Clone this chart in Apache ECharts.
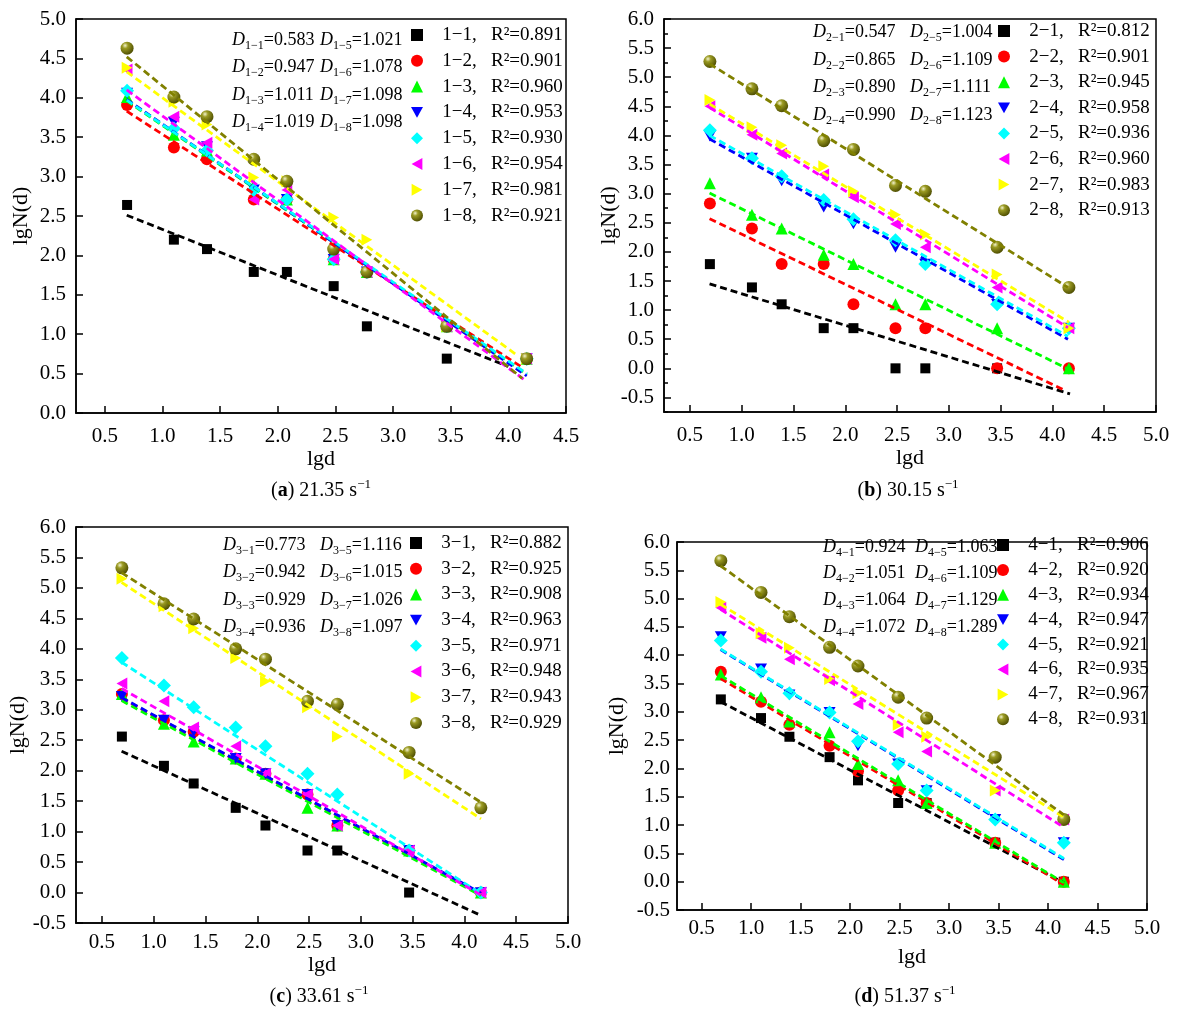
<!DOCTYPE html>
<html>
<head>
<meta charset="utf-8">
<title>lgN(d) - lgd</title>
<script src="https://cdn.jsdelivr.net/npm/echarts@6/dist/echarts.min.js"></script>
<style>
  html, body { margin: 0; padding: 0; background: #fff; }
  #chart { width: 1178px; height: 1027px; }
</style>
</head>
<body>
<div id="chart"></div>
<script>
// x positions shared by every panel
const lgd = [0.693, 1.099, 1.386, 1.792, 2.079, 2.485, 2.773, 3.466, 4.159];

// tick labels
const xTicksA = [0.5, 1.0, 1.5, 2.0, 2.5, 3.0, 3.5, 4.0, 4.5];
const xTicksB = [0.5, 1.0, 1.5, 2.0, 2.5, 3.0, 3.5, 4.0, 4.5, 5.0];
const yTicksB = [-0.5, 0.0, 0.5, 1.0, 1.5, 2.0, 2.5, 3.0, 3.5, 4.0, 4.5, 5.0, 5.5, 6.0];

// (a) 21.35 s-1
const namesA = ['1−1', '1−2', '1−3', '1−4', '1−5', '1−6', '1−7', '1−8'];
const r2A = ['0.891', '0.901', '0.960', '0.953', '0.930', '0.954', '0.981', '0.921'];
const dA = ['0.583', '0.947', '1.011', '1.019', '1.021', '1.078', '1.098', '1.098'];
const valuesA = [
  [2.64, 2.20, 2.08, 1.79, 1.79, 1.61, 1.10, 0.69, null],
  [3.91, 3.37, 3.22, 2.71, 2.71, 1.95, 1.79, 1.10, 0.69],
  [4.01, 3.53, 3.33, 2.89, 2.71, 1.95, 1.79, 1.10, 0.69],
  [4.06, 3.69, 3.38, 2.83, 2.71, 1.95, 1.79, 1.10, 0.69],
  [4.09, 3.61, 3.33, 2.83, 2.71, 1.95, 1.79, 1.10, 0.69],
  [4.36, 3.76, 3.43, 2.71, 2.83, 1.95, 1.79, 1.10, 0.69],
  [4.38, 3.95, 3.66, 2.99, 2.94, 2.48, 2.20, 1.10, 0.69],
  [4.63, 4.01, 3.76, 3.22, 2.94, 2.08, 1.79, 1.10, 0.69]
];
// fitted lines: [x start, y start, x end, y end]
const fitsA = [
  [0.69, 2.51, 4.00, 0.59],
  [0.69, 3.83, 4.13, 0.57],
  [0.69, 3.96, 4.16, 0.49],
  [0.69, 3.98, 4.16, 0.47],
  [0.69, 3.97, 4.16, 0.50],
  [0.69, 4.10, 4.16, 0.40],
  [0.69, 4.33, 4.06, 0.75],
  [0.69, 4.52, 4.12, 0.44]
];

// (b) 30.15 s-1
const namesB = ['2−1', '2−2', '2−3', '2−4', '2−5', '2−6', '2−7', '2−8'];
const r2B = ['0.812', '0.901', '0.945', '0.958', '0.936', '0.960', '0.983', '0.913'];
const dB = ['0.547', '0.865', '0.890', '0.990', '1.004', '1.109', '1.111', '1.123'];
const valuesB = [
  [1.79, 1.39, 1.10, 0.69, 0.69, 0.00, 0.00, 0.00, null],
  [2.83, 2.40, 1.79, 1.79, 1.10, 0.69, 0.69, 0.00, 0.00],
  [3.18, 2.64, 2.40, 1.95, 1.79, 1.10, 1.10, 0.69, 0.00],
  [3.99, 3.61, 3.22, 2.77, 2.48, 2.08, 1.79, 1.10, 0.69],
  [4.09, 3.61, 3.30, 2.89, 2.56, 2.20, 1.79, 1.10, 0.69],
  [4.50, 4.01, 3.69, 3.33, 2.94, 2.48, 2.08, 1.39, 0.69],
  [4.61, 4.14, 3.83, 3.47, 3.04, 2.64, 2.30, 1.61, 0.69],
  [5.27, 4.80, 4.51, 3.91, 3.76, 3.14, 3.04, 2.08, 1.39]
];
const fitsB = [
  [0.69, 1.45, 4.17, -0.44],
  [0.69, 2.57, 4.12, -0.38],
  [0.69, 3.01, 4.15, -0.01],
  [0.69, 3.94, 4.15, 0.50],
  [0.69, 4.00, 4.15, 0.55],
  [0.69, 4.48, 4.15, 0.70],
  [0.69, 4.54, 4.16, 0.79],
  [0.69, 5.23, 4.15, 1.39]
];

// (c) 33.61 s-1
const namesC = ['3−1', '3−2', '3−3', '3−4', '3−5', '3−6', '3−7', '3−8'];
const r2C = ['0.882', '0.925', '0.908', '0.963', '0.971', '0.948', '0.943', '0.929'];
const dC = ['0.773', '0.942', '0.929', '0.936', '1.116', '1.015', '1.026', '1.097'];
const valuesC = [
  [2.56, 2.08, 1.79, 1.39, 1.10, 0.69, 0.69, 0.00, null],
  [3.26, 2.83, 2.64, 2.20, 1.95, 1.61, 1.10, 0.69, 0.00],
  [3.26, 2.77, 2.48, 2.20, 1.95, 1.39, 1.10, 0.69, 0.00],
  [3.22, 2.83, 2.64, 2.20, 1.95, 1.61, 1.10, 0.69, 0.00],
  [3.85, 3.40, 3.04, 2.71, 2.40, 1.95, 1.61, 0.69, 0.00],
  [3.43, 3.14, 2.71, 2.40, 1.95, 1.61, 1.10, 0.69, 0.00],
  [5.15, 4.70, 4.34, 3.85, 3.47, 3.04, 2.56, 1.95, null],
  [5.33, 4.74, 4.49, 4.00, 3.83, 3.14, 3.09, 2.30, 1.39]
];
const fitsC = [
  [0.69, 2.32, 4.14, -0.36],
  [0.69, 3.19, 4.16, -0.02],
  [0.69, 3.15, 4.16, -0.05],
  [0.69, 3.20, 4.16, -0.01],
  [0.69, 3.78, 4.16, -0.02],
  [0.69, 3.35, 4.16, -0.04],
  [0.69, 5.09, 4.16, 1.21],
  [0.69, 5.25, 4.16, 1.48]
];

// (d) 51.37 s-1
const namesD = ['4−1', '4−2', '4−3', '4−4', '4−5', '4−6', '4−7', '4−8'];
const r2D = ['0.906', '0.920', '0.934', '0.947', '0.921', '0.935', '0.967', '0.931'];
const dD = ['0.924', '1.051', '1.064', '1.072', '1.063', '1.109', '1.129', '1.289'];
const valuesD = [
  [3.22, 2.89, 2.56, 2.20, 1.79, 1.39, 1.39, 0.69, 0.00],
  [3.71, 3.18, 2.77, 2.40, 1.95, 1.61, 1.39, 0.69, 0.00],
  [3.66, 3.26, 2.83, 2.64, 2.08, 1.79, 1.39, 0.69, 0.00],
  [4.33, 3.76, 3.30, 2.99, 2.40, 2.08, 1.61, 1.10, 0.69],
  [4.26, 3.71, 3.33, 2.99, 2.48, 2.08, 1.61, 1.10, 0.69],
  [4.84, 4.31, 3.93, 3.56, 3.14, 2.64, 2.30, 1.61, 1.10],
  [4.94, 4.39, 4.13, 3.58, 3.33, 2.77, 2.56, 1.61, 1.10],
  [5.67, 5.11, 4.68, 4.14, 3.81, 3.26, 2.89, 2.20, 1.10]
];
const fitsD = [
  [0.69, 3.18, 4.16, -0.02],
  [0.69, 3.59, 4.16, -0.05],
  [0.69, 3.64, 4.16, -0.02],
  [0.69, 4.10, 4.16, 0.39],
  [0.69, 4.11, 4.16, 0.41],
  [0.69, 4.81, 4.16, 0.96],
  [0.69, 4.90, 4.16, 1.14],
  [0.69, 5.58, 4.16, 1.18]
];

const FONT = 'Liberation Serif';

// triangle outlines pointing down / left / right
const triDown = 'path://M0,0L2,0L1,1.8Z';
const triLeft = 'path://M1.8,0L1.8,2L0,1Z';
const triRight = 'path://M0,0L0,2L1.8,1Z';

// marker look for series 1..8 (same in every panel)
const marks = [
  { symbol: 'rect', size: 10, color: '#000000' },
  { symbol: 'circle', size: 12, color: '#ff0000' },
  { symbol: 'triangle', size: 12, color: '#00ff00' },
  { symbol: triDown, size: 12, color: '#0000ff' },
  { symbol: 'diamond', size: 14, color: '#00ffff' },
  { symbol: triLeft, size: 12, color: '#ff00ff' },
  { symbol: triRight, size: 12, color: '#ffff00' },
  { symbol: 'circle', size: 13, color: '#808000', sphere: true }
];

const sphere = new echarts.graphic.RadialGradient(0.35, 0.3, 0.75, [
  { offset: 0, color: '#f2f2cc' },
  { offset: 0.3, color: '#9a9a22' },
  { offset: 1, color: '#4a4a00' }
]);

const panels = [
  {
    tag: 'a', rate: '21.35', names: namesA, vals: valuesA, fits: fitsA, r2: r2A, d: dA,
    grid: { left: 76, top: 19, width: 490, height: 394 },
    xMax: 4.5, xTicks: xTicksA, yMin: 0, yMax: 5, minor: false,
    xLabelMargin: 13, yLabelMargin: 10, yNameGap: 44, xNameGap: 34,
    legend: { left: 411, top: 24, gap: 3.8 },
    dX: [232, 320], dY: [40, 67, 95, 122], cap: [321, 491]
  },
  {
    tag: 'b', rate: '30.15', names: namesB, vals: valuesB, fits: fitsB, r2: r2B, d: dB,
    grid: { left: 664, top: 19, width: 492, height: 393 },
    xMax: 5, xTicks: xTicksB, yMin: -0.75, yMax: 6, minor: true,
    xLabelMargin: 13, yLabelMargin: 10, yNameGap: 44, xNameGap: 34,
    legend: { left: 998, top: 20, gap: 3.6 },
    dX: [813, 910], dY: [32, 60, 87, 115], cap: [908, 491]
  },
  {
    tag: 'c', rate: '33.61', names: namesC, vals: valuesC, fits: fitsC, r2: r2C, d: dC,
    grid: { left: 76, top: 527, width: 492, height: 396 },
    xMax: 5, xTicks: xTicksB, yMin: -0.5, yMax: 6, minor: false,
    xLabelMargin: 9, yLabelMargin: 10, yNameGap: 46, xNameGap: 29,
    legend: { left: 410, top: 532, gap: 3.7 },
    dX: [223, 320], dY: [545, 572, 600, 627], cap: [319, 997]
  },
  {
    tag: 'd', rate: '51.37', names: namesD, vals: valuesD, fits: fitsD, r2: r2D, d: dD,
    grid: { left: 677, top: 542, width: 470, height: 368 },
    xMax: 5, xTicks: xTicksB, yMin: -0.5, yMax: 6, minor: false,
    xLabelMargin: 8, yLabelMargin: 7, yNameGap: 49, xNameGap: 36,
    legend: { left: 997, top: 534, gap: 2.9 },
    dX: [823, 915], dY: [547, 573, 600, 627], cap: [905, 997]
  }
];

const labelStyle = { fontFamily: FONT, fontSize: 21, color: '#000' };
const nameStyle = { fontFamily: FONT, fontSize: 22, color: '#000' };
const axisLine = { show: true, onZero: false, lineStyle: { color: '#000', width: 1.5 } };

const grids = [];
const xAxes = [];
const yAxes = [];
const series = [];
const legends = [];
const graphics = [];

const dRich = {
  it: { fontFamily: FONT, fontSize: 18, fontStyle: 'italic', fill: '#000', lineHeight: 26 },
  sub: { fontFamily: FONT, fontSize: 12, fill: '#000', padding: [12, 0, 0, 0] },
  n: { fontFamily: FONT, fontSize: 18, fill: '#000', lineHeight: 26 }
};
const capRich = {
  n: { fontFamily: FONT, fontSize: 20, fill: '#000', lineHeight: 26 },
  b: { fontFamily: FONT, fontSize: 20, fontWeight: 'bold', fill: '#000', lineHeight: 26 },
  sup: { fontFamily: FONT, fontSize: 13, fill: '#000', padding: [0, 0, 13, 0] }
};

panels.forEach((p, gi) => {
  grids.push(Object.assign({
    show: true, borderColor: '#000', borderWidth: 1.5, outerBoundsMode: 'none'
  }, p.grid));

  xAxes.push({
    type: 'value', gridIndex: gi, min: 0.25, max: p.xMax,
    axisLine: axisLine,
    axisTick: { inside: true, length: 7, customValues: p.xTicks, lineStyle: { color: '#000', width: 1.5 } },
    axisLabel: Object.assign({ customValues: p.xTicks, margin: p.xLabelMargin, formatter: v => v.toFixed(1) }, labelStyle),
    splitLine: { show: false },
    name: 'lgd', nameLocation: 'middle', nameGap: p.xNameGap, nameTextStyle: nameStyle
  });

  const yIndex = yAxes.length;
  if (p.minor) {
    // fine ticks every 0.25, labels and long ticks on a twin axis
    yAxes.push({
      type: 'value', gridIndex: gi, min: p.yMin, max: p.yMax, interval: 0.25,
      axisLine: axisLine,
      axisTick: { inside: true, length: 4, lineStyle: { color: '#000', width: 1.5 } },
      axisLabel: { show: false },
      splitLine: { show: false },
      name: 'lgN(d)', nameLocation: 'middle', nameGap: p.yNameGap, nameTextStyle: nameStyle
    });
    yAxes.push({
      type: 'value', gridIndex: gi, min: p.yMin, max: p.yMax, position: 'left',
      axisLine: { show: false, onZero: false },
      axisTick: { inside: true, length: 7, customValues: yTicksB, lineStyle: { color: '#000', width: 1.5 } },
      axisLabel: Object.assign({ customValues: yTicksB, margin: p.yLabelMargin, formatter: v => v.toFixed(1) }, labelStyle),
      splitLine: { show: false }
    });
  } else {
    yAxes.push({
      type: 'value', gridIndex: gi, min: p.yMin, max: p.yMax, interval: 0.5,
      axisLine: axisLine,
      axisTick: { inside: true, length: 7, lineStyle: { color: '#000', width: 1.5 } },
      axisLabel: Object.assign({ margin: p.yLabelMargin, formatter: v => v.toFixed(1) }, labelStyle),
      splitLine: { show: false },
      name: 'lgN(d)', nameLocation: 'middle', nameGap: p.yNameGap, nameTextStyle: nameStyle
    });
  }

  const r2Map = {};
  p.names.forEach((n, i) => { r2Map[n] = p.r2[i]; });

  p.names.forEach((n, i) => {
    const m = marks[i];
    const pts = [];
    lgd.forEach((x, k) => { if (p.vals[i][k] != null) pts.push([x, p.vals[i][k]]); });
    series.push({
      name: n, type: 'scatter', xAxisIndex: gi, yAxisIndex: yIndex,
      symbol: m.symbol, symbolSize: m.size, symbolKeepAspect: true,
      itemStyle: { color: m.sphere ? sphere : m.color, opacity: 1 },
      data: pts, z: 2
    });
    const f = p.fits[i];
    series.push({
      name: 'fit ' + n, type: 'line', xAxisIndex: gi, yAxisIndex: yIndex,
      symbol: 'none', silent: true, z: 3,
      lineStyle: { color: m.color, width: 2.8, type: [7, 4] },
      data: [[f[0], f[1]], [f[2], f[3]]]
    });
  });

  legends.push({
    orient: 'vertical', left: p.legend.left, top: p.legend.top, padding: 0,
    itemWidth: 12, itemHeight: 12, itemGap: p.legend.gap, selectedMode: false,
    data: p.names,
    formatter: name => '   ' + name + ',   R²=' + r2Map[name],
    textStyle: { fontFamily: FONT, fontSize: 19, color: '#000', lineHeight: 22 }
  });

  // D values, two columns of four
  const k = p.tag === 'a' ? '1' : p.tag === 'b' ? '2' : p.tag === 'c' ? '3' : '4';
  for (let c = 0; c < 2; c++) {
    for (let r = 0; r < 4; r++) {
      const idx = c * 4 + r;
      graphics.push({
        type: 'text', x: p.dX[c], y: p.dY[r], silent: true,
        style: {
          text: '{it|D}{sub|' + k + '−' + (idx + 1) + '}{n|=' + p.d[idx] + '}',
          rich: dRich, align: 'left', verticalAlign: 'middle'
        }
      });
    }
  }

  graphics.push({
    type: 'text', x: p.cap[0], y: p.cap[1], silent: true,
    style: {
      text: '{n|(}{b|' + p.tag + '}{n|) ' + p.rate + ' s}{sup|−1}',
      rich: capRich, align: 'center', verticalAlign: 'middle'
    }
  });
});

const chart = echarts.init(document.getElementById('chart'), null, { renderer: 'canvas' });
chart.setOption({
  animation: false,
  backgroundColor: '#fff',
  grid: grids,
  xAxis: xAxes,
  yAxis: yAxes,
  legend: legends,
  series: series,
  graphic: graphics
});
window.addEventListener('resize', () => chart.resize());
</script>
</body>
</html>
